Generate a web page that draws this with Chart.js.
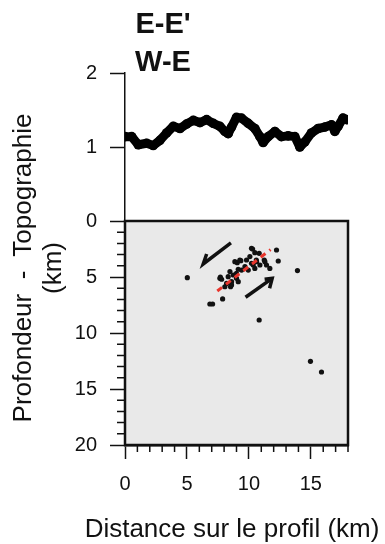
<!DOCTYPE html>
<html>
<head>
<meta charset="utf-8">
<script src="https://cdn.jsdelivr.net/npm/chart.js@4.4.1/dist/chart.umd.min.js"></script>
<style>
  body { margin: 0; background: #fff; }
  #wrap { position: relative; width: 385px; height: 544px; font-family: "Liberation Sans", Arial, sans-serif; color: #111; }
  #title { position: absolute; left: 113px; top: 4px; width: 100px; text-align: center; font-weight: bold; font-size: 29px; line-height: 38px; }
  #ytitle { position: absolute; left: -143px; top: 238px; width: 360px; height: 60px; text-align: center; font-size: 26px; line-height: 30px; white-space: pre; transform: rotate(-90deg); }
  #xtitle { position: absolute; left: 32px; top: 513px; width: 400px; text-align: center; font-size: 26px; line-height: 30px; white-space: pre; }
</style>
</head>
<body>
<div id="wrap">
  <canvas id="my_chart" width="385" height="544"></canvas>
  <div id="title">E-E'<br>W-E</div>
  <div id="ytitle">Profondeur  -  Topographie<br>(km)</div>
  <div id="xtitle">Distance sur le profil (km)</div>
</div>
<script>
// topographie le long du profil (km)
const topoDist = [0, 0.54, 1.07, 1.75, 2.28, 2.82, 3.36, 3.9, 4.44, 4.97, 5.51, 6.05, 6.59, 7.12, 7.66, 8.06, 8.33, 8.6, 9.0, 9.4, 9.95, 10.48, 10.89, 11.15, 11.56, 12.1, 12.63, 13.17, 13.71, 14.11, 14.52, 15.05, 15.59, 16.13, 16.67, 16.94, 17.2, 17.6, 17.9];
const topoElev = [1.14, 1.14, 1.03, 1.05, 1.02, 1.09, 1.19, 1.28, 1.25, 1.31, 1.36, 1.33, 1.37, 1.32, 1.28, 1.21, 1.18, 1.27, 1.40, 1.39, 1.32, 1.25, 1.14, 1.06, 1.14, 1.21, 1.14, 1.15, 1.14, 1.00, 1.07, 1.19, 1.25, 1.27, 1.30, 1.21, 1.28, 1.39, 1.37];

// seismes
const quakeDist = [5.03, 10.3, 12.23, 12.37, 13.92, 11.69, 11.29, 10.83, 7.66, 7.88, 6.85, 7.07, 10.83, 14.97, 15.86, 9.27, 9.06, 9.81, 10.21, 10.48, 9.95, 9.68, 9.41, 8.47, 8.74, 8.33, 9.0, 8.6, 9.14, 8.2, 8.52, 7.8, 10.6, 10.89, 10.08, 8.87, 9.35, 10.21, 10.48, 10.35, 10.62, 11.42, 8.06, 8.6, 9.0, 9.14, 11.24, 7.7];
const quakeDepth = [5.06, 2.5, 2.59, 3.57, 4.43, 4.23, 3.63, 2.89, 5.12, 6.96, 7.41, 7.41, 8.84, 12.53, 13.48, 3.48, 3.72, 3.48, 3.78, 4.23, 4.38, 4.08, 4.38, 4.52, 4.82, 4.97, 5.12, 5.42, 5.42, 5.57, 5.87, 5.2, 3.48, 3.93, 3.18, 3.63, 3.54, 2.44, 2.83, 3.93, 3.63, 3.93, 5.87, 5.71, 4.67, 4.31, 3.48, 5.0];

// faille (tirets rouges)
const faultDist = [7.45, 11.75];
const faultDepth = [6.25, 2.55];

// fleches de mouvement
const arrow1Dist = [8.55, 6.31, 6.59];
const arrow1Depth = [1.96, 3.84, 2.95];
const arrow2Dist = [9.73, 11.88];
const arrow2Depth = [6.81, 5.12];
const arrow2HeadDist = [11.27, 11.88, 11.67];
const arrow2HeadDepth = [5.21, 5.12, 6.01];

const xTicks = [0, 5, 10, 15];
const depthTicks = [0, 5, 10, 15, 20];
const topoTicks = [1, 2];

function pts(xs, ys) {
  return xs.map((x, i) => ({ x: x, y: ys[i] }));
}

const font = { family: "'Liberation Sans', Arial, sans-serif", size: 20 };
const ink = "#111";

function majorTick(list) {
  return (c) => (c.tick && list.includes(c.tick.value)) ? ink : "rgba(0,0,0,0)";
}

// fond gris, cadre et petites graduations
const boxPlugin = {
  id: "box",
  beforeDatasetsDraw(chart) {
    const g = chart.ctx, a = chart.chartArea, yb = chart.scales.yBot;
    g.save();
    g.fillStyle = "#e9e9e9";
    g.fillRect(a.left, yb.top, a.right - a.left, yb.bottom - yb.top);
    g.restore();
  },
  afterDatasetsDraw(chart) {
    const g = chart.ctx, a = chart.chartArea, yb = chart.scales.yBot, xs = chart.scales.x;
    g.save();
    g.strokeStyle = ink;
    g.lineWidth = 1.5;
    g.beginPath();
    for (let v = 1; v < 18.5; v++) {
      if (v % 5 === 0) continue;
      const px = xs.getPixelForValue(v);
      g.moveTo(px, a.bottom);
      g.lineTo(px, a.bottom + 7);
    }
    for (let v = 1; v < 20; v++) {
      if (v % 5 === 0) continue;
      const py = yb.getPixelForValue(v);
      g.moveTo(a.left - 8, py);
      g.lineTo(a.left, py);
    }
    g.stroke();
    g.lineWidth = 2.5;
    g.strokeRect(a.left, yb.top, a.right - a.left, yb.bottom - yb.top);
    g.restore();
  }
};

const ctx = document.getElementById("my_chart");
new Chart(ctx, {
  type: "scatter",
  data: {
    datasets: [
      {
        data: pts(faultDist, faultDepth),
        yAxisID: "yBot",
        showLine: true,
        borderColor: "#e8352c",
        borderWidth: 3,
        borderDash: [6, 5],
        pointRadius: 0,
      },
      {
        data: pts(quakeDist, quakeDepth),
        yAxisID: "yBot",
        backgroundColor: ink,
        borderColor: ink,
        pointRadius: 2.6,
        borderWidth: 0,
      },
      {
        data: pts(arrow1Dist, arrow1Depth),
        yAxisID: "yBot",
        showLine: true,
        borderColor: ink,
        borderWidth: 3.5,
        pointRadius: 0,
      },
      {
        data: pts(arrow2Dist, arrow2Depth),
        yAxisID: "yBot",
        showLine: true,
        borderColor: ink,
        borderWidth: 3.5,
        pointRadius: 0,
      },
      {
        data: pts(arrow2HeadDist, arrow2HeadDepth),
        yAxisID: "yBot",
        showLine: true,
        borderColor: ink,
        borderWidth: 3.5,
        pointRadius: 0,
      },
      {
        data: pts(topoDist, topoElev),
        yAxisID: "yTop",
        showLine: true,
        borderColor: "#000",
        borderWidth: 9,
        borderJoinStyle: "round",
        borderCapStyle: "round",
        backgroundColor: "#000",
        pointRadius: 4.8,
        pointBorderWidth: 0,
      },
    ],
  },
  options: {
    responsive: false,
    animation: false,
    layout: { padding: { left: 65, top: 73, right: 37, bottom: 0 } },
    plugins: { legend: { display: false }, tooltip: { enabled: false } },
    scales: {
      x: {
        type: "linear",
        min: 0,
        max: 18,
        afterFit: (s) => { s.height = 99; },
        border: { color: ink, width: 2.5 },
        grid: { drawOnChartArea: false, tickLength: 14, tickWidth: 1.5, tickColor: majorTick(xTicks) },
        ticks: {
          stepSize: 1, autoSkip: false, maxRotation: 0, padding: 13, color: ink, font: font,
          callback: (v) => xTicks.includes(v) ? v : "",
        },
      },
      yBot: {
        type: "linear",
        position: "left",
        stack: "prof",
        stackWeight: 224,
        min: 0,
        max: 20,
        reverse: true,
        afterFit: (s) => { s.width = 60; },
        border: { color: ink, width: 2.5 },
        grid: { drawOnChartArea: false, tickLength: 15, tickWidth: 1.5, tickColor: majorTick(depthTicks) },
        ticks: {
          stepSize: 1, autoSkip: false, padding: 13, color: ink, font: font,
          callback: (v) => depthTicks.includes(v) ? v : "",
        },
      },
      yTop: {
        type: "linear",
        position: "left",
        stack: "prof",
        stackWeight: 148,
        min: 0,
        max: 2,
        afterFit: (s) => { s.width = 60; },
        border: { color: ink, width: 1.5 },
        grid: { drawOnChartArea: false, tickLength: 15, tickWidth: 1.5, tickColor: majorTick(topoTicks) },
        ticks: {
          stepSize: 1, padding: 13, color: ink, font: font,
          callback: (v) => topoTicks.includes(v) ? v : "",
        },
      },
    },
  },
  plugins: [boxPlugin],
});
</script>
</body>
</html>
